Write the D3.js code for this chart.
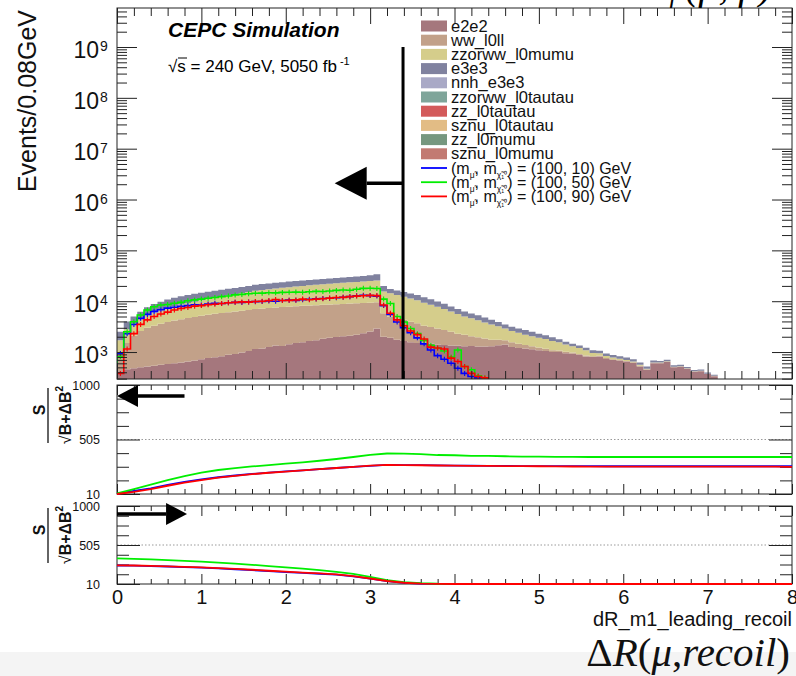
<!DOCTYPE html>
<html><head><meta charset="utf-8">
<script src="https://cdn.jsdelivr.net/npm/d3@7"></script>
<style>
body{margin:0;background:#fff;}
svg{display:block;}
</style></head><body>
<script>
// ---------------- DATA ----------------
const binWidth = 0.08;
const nBins = 100;
const binLo = d3.range(nBins).map(i => +(i * binWidth).toFixed(2));

const bkgNames = ["e2e2","ww_l0ll","zzorww_l0mumu","e3e3","nnh_e3e3","zzorww_l0tautau","zz_l0tautau","sznu_l0tautau","zz_l0mumu","sznu_l0mumu"];
const bkgColors = ["#a5777d","#c2a189","#d5cd8b","#80829f","#a9a9c6","#7fa59a","#d35a5a","#e2bc85","#76977f","#c27a72"];

const e2e2 = [420,460,480,500,520,540,560,580,600,620, 650,680,720,760,790,830,880,920,980,1050,
  1150,1180,1260,1350,1320,1420,1500,1560,1650,1700, 1820,1900,1980,2050,2100,2200,2350,2550,2900,2000,
  1900,1750,1650,1560,1500,1520,1450,1400,1380,1350, 1330,1300,1320,1280,1290,1300,1360,1400,1250,1200,
  1180,1130,1080,1050,1000,1000,950,930,880,820, 800,820,730,700,680,650,610,520,450,600,
  600,640,500,515,470,410,420,370,335,270, 250,230,200,210,180,170,150,160,140,130];
const ww_l0ll = [480,1040,1620,2100,2480,2760,3040,3320,3550,3780, 4000,4220,4430,4640,4860,5020,5170,5380,5520,5650,
  5850,5970,6090,6150,6330,6380,6450,6540,6600,6650, 6680,6700,6770,6800,6900,6900,6900,6800,6600,3800,
  3100,2850,2650,2390,2200,1780,1650,1500,1320,1150, 970,900,730,670,560,450,390,300,300,250,
  200,170,150,110,90,70,60,50,40,40, 30,30,30,25,20,20,20,15,10,15,
  12,10,8,7,6,5,4,4,3,2, 2,2,1,1,1,1,1,1,1,1];
const zzorww_l0mumu = [800,1300,1600,2000,2350,2700,3100,3500,3850,4200, 4550,4900,5250,5600,5950,6350,6850,7300,7900,8500,
  9000,9450,9850,10300,10650,11100,11450,11900,12250,12650, 13000,13400,13750,14150,14500,14900,15250,15650,16000,9700,
  9300,8700,8000,7350,6700,6000,5400,4900,4300,3800, 3300,2800,2550,2250,1950,1750,1450,1200,1050,950,
  820,750,670,640,560,480,390,320,280,220, 130,100,80,60,40,30,20,25,10,10,
  8,10,4,4,4,3,3,2,2,1, 1,1,1,1,1,1,1,1,1,1];
const e3e3 = [800,1200,1300,1600,2250,2800,3100,3400,3700,3900, 4100,4200,4300,4400,4500,4600,4600,4600,4600,4600,
  5000,5100,5200,5200,5300,5400,5500,5500,5600,5700, 5800,5900,6000,6100,6300,6500,6800,7300,8300,4300,
  3000,2900,2900,2800,2800,2700,2400,2100,1900,1600, 1400,1300,1100,1100,1000,800,700,600,550,500,
  500,450,400,350,300,230,200,150,150,140, 120,110,100,90,85,80,70,60,50,55,
  50,45,40,35,30,25,25,20,18,15, 14,12,10,10,8,8,6,6,5,5];
// minor backgrounds: not visible at this scale
const nnh_e3e3 = [], zzorww_l0tautau = [], zz_l0tautau = [], sznu_l0tautau = [], zz_l0mumu = [], sznu_l0mumu = [];
const bkgValues = [e2e2, ww_l0ll, zzorww_l0mumu, e3e3, nnh_e3e3, zzorww_l0tautau, zz_l0tautau, sznu_l0tautau, zz_l0mumu, sznu_l0mumu];

const sigColors = ["#0000ff","#00ee00","#ff0000"];
const sigMassSmuon = [100,100,100];
const sigMassChi = [10,50,90];
const sig10 = [940,2300,3500,4600,5500,6300,6800,7300,7600,7900, 8200,8500,8400,8800,9100,9000,9300,9500,9400,9700,
  9800,9900,10100,10000,10300,10500,10400,10700,10900,11100, 11300,11400,11700,12000,12300,12800,13100,12900,12600,8200,
  5500,3900,3000,2400,1900,1450,1100,850,720,600, 480,380,330,310];
const sig50 = [810,2500,3950,5340,6700,7800,8400,8600,9100,9500, 10200,10600,11000,11400,11800,12300,12700,13300,13600,14000,
  14300,14400,14700,14600,14900,15000,15100,15000,15300,15600, 15500,15900,16300,16600,16400,17200,17900,18000,17800,11000,
  9000,5000,3900,2900,2300,1700,1350,1200,1050,800, 1100,520,450,340,310];
const sig90 = [380,1150,2300,3500,4300,5000,5600,6100,6700,7200, 7500,8000,8200,8500,8700,9000,9300,9500,9700,9600,
  9900,10000,10300,10800,10300,10400,10600,11000,10700,11000, 11200,11500,11800,11900,12300,12600,12800,13000,12900,8400,
  5800,4300,3300,2600,2200,1800,1250,1200,1150,760, 650,520,380,330,310];
const sigValues = [sig10, sig50, sig90];

// significance scans, sampled every 0.2
const scanX = d3.range(41).map(i => +(i * 0.2).toFixed(1));
const left10 = [12,38,62,92,120,142,162,178,192,204, 215,225,236,246,256,266,274,273,272,270,
  268,267,266,265,264,264,264,264,264,262, 262,262,262,262,262,262,262,262,262,262, 262];
const left50 = [15,55,95,135,172,205,228,245,260,273, 285,297,312,328,346,365,378,376,373,364,
  362,356,356,353,349,349,348,348,346,346, 346,346,346,346,346,346,346,346,346,346, 346];
const left90 = [10,30,55,85,113,137,158,175,190,203, 214,225,236,246,257,267,275,273,271,269,
  267,266,265,264,263,262,261,260,259,258, 258,258,258,258,258,258,258,258,258,258, 256];
const right10 = [245,243,238,232,225,218,208,197,186,173, 161,150,140,128,107,78,46,25,15,11,
  10,10,10,10,10,10,10,10,10,10, 10,10,10,10,10,10,10,10,10,10, 10];
const right50 = [336,330,322,313,303,293,281,268,254,238, 222,205,186,165,138,100,60,35,20,13,
  11,10,10,10,10,10,10,10,10,10, 10,10,10,10,10,10,10,10,10,10, 10];
const right90 = [247,245,240,234,228,222,212,202,191,178, 166,155,144,133,110,80,48,26,15,11,
  10,10,10,10,10,10,10,10,10,10, 10,10,10,10,10,10,10,10,10,10, 10];
const leftScans = [left10, left50, left90];
const rightScans = [right10, right50, right90];

const cutValue = 3.39;
const mainArrow = {from: 3.39, to: 2.58, v: 2.1e6};
const leftArrow = {from: 0.8, to: 0.0, v: 900};
const rightArrow = {from: 0.0, to: 0.83, v: 900};

const yMajor = [1e3,1e4,1e5,1e6,1e7,1e8,1e9];
const xMajor = [0,1,2,3,4,5,6,7,8];
const ratioMajor = [10,505,1000];

// ---------------- LAYOUT ----------------
const FONT = "'Liberation Sans', Arial, Helvetica, sans-serif";
const W = 796, H = 676, L = 117, R = 792;
const main = {top: 8, bottom: 379}, p1 = {top: 385, bottom: 494}, p2 = {top: 506, bottom: 584};

const svg = d3.select("body").append("svg").attr("width", W).attr("height", H).attr("font-family", FONT);
svg.append("rect").attr("x",0).attr("y",0).attr("width",W).attr("height",H).attr("fill","#fff");
svg.append("rect").attr("x",0).attr("y",652).attr("width",W).attr("height",24).attr("fill","#f4f4f4");

const x = d3.scaleLinear().domain([0,8]).range([L,R]);
const y = d3.scaleLog().domain([295,5.85e9]).range([main.bottom, main.top]).clamp(true);
const y1 = d3.scaleLinear().domain([10,1000]).range([p1.bottom, p1.top]);
const y2 = d3.scaleLinear().domain([10,1000]).range([p2.bottom, p2.top]);

const defs = svg.append("defs");
defs.append("clipPath").attr("id","cm").append("rect").attr("x",L).attr("y",main.top).attr("width",R-L).attr("height",main.bottom-main.top);
defs.append("clipPath").attr("id","c1").append("rect").attr("x",L-1).attr("y",p1.top-1).attr("width",R-L+2).attr("height",p1.bottom-p1.top+2);
defs.append("clipPath").attr("id","c2").append("rect").attr("x",L-1).attr("y",p2.top-1).attr("width",R-L+2).attr("height",p2.bottom-p2.top+2);

// ---------------- MAIN PANEL ----------------
const rows = binLo.map((lo,i) => { const r = {lo}; bkgNames.forEach((n,k) => r[n] = bkgValues[k][i] || 0); return r; });
rows.push(Object.assign({}, rows[rows.length-1], {lo: 8}));
const stacked = d3.stack().keys(bkgNames)(rows);
const area = d3.area()
  .x(d => x(d.data.lo))
  .y0(d => y(Math.max(d[0],1e-9)))
  .y1(d => y(Math.max(d[1],1e-9)))
  .curve(d3.curveStepAfter);
const gm = svg.append("g").attr("clip-path","url(#cm)");
gm.selectAll("path.bkg").data(stacked).join("path").attr("class","bkg")
  .attr("fill",(d,i) => bkgColors[i]).attr("d", area);

const sLine = d3.line().x(d => x(d.lo)).y(d => y(Math.max(d.v,1e-9))).curve(d3.curveStepAfter);
sigValues.forEach((s,k) => {
  const end = binLo[s.length-1] + binWidth;
  const pts = [{lo:0,v:0}].concat(s.map((v,i) => ({lo: binLo[i], v})), [{lo:end, v:s[s.length-1]}, {lo:end, v:0}]);
  gm.append("path").attr("d", sLine(pts)).attr("fill","none").attr("stroke", sigColors[k]).attr("stroke-width",1.6);
  gm.selectAll(null).data(s).join("line")
    .attr("x1",(v,i) => x(binLo[i]+binWidth/2)).attr("x2",(v,i) => x(binLo[i]+binWidth/2))
    .attr("y1",v => y(v)-2.5).attr("y2",v => y(v)+2.5)
    .attr("stroke", sigColors[k]).attr("stroke-width",1.1);
});

function styleAxis(g){ g.select(".domain").remove(); g.attr("font-family", FONT); g.selectAll(".tick line").attr("stroke","#222"); }
const yMinor = [];
for (let d = 2; d <= 9; d++) for (let k = 2; k <= 9; k++) { const v = k*Math.pow(10,d); if (v > 295 && v < 5.85e9) yMinor.push(v); }
const xMinor = d3.range(41).map(i => +(i*0.2).toFixed(1)).filter(v => !xMajor.includes(v));

svg.append("g").attr("transform",`translate(${L},0)`).call(d3.axisLeft(y).tickValues(yMajor).tickSize(-20).tickFormat("")).call(styleAxis);
svg.append("g").attr("transform",`translate(${L},0)`).call(d3.axisLeft(y).tickValues(yMinor).tickSize(-10).tickFormat("")).call(styleAxis);
svg.append("g").attr("transform",`translate(${R},0)`).call(d3.axisRight(y).tickValues(yMajor).tickSize(-20).tickFormat("")).call(styleAxis);
svg.append("g").attr("transform",`translate(${R},0)`).call(d3.axisRight(y).tickValues(yMinor).tickSize(-10).tickFormat("")).call(styleAxis);

function xTicks(top, bottom, majLen, minLen){
  svg.append("g").attr("transform",`translate(0,${top})`).call(d3.axisTop(x).tickValues(xMajor).tickSize(-majLen).tickFormat("")).call(styleAxis);
  svg.append("g").attr("transform",`translate(0,${top})`).call(d3.axisTop(x).tickValues(xMinor).tickSize(-minLen).tickFormat("")).call(styleAxis);
  svg.append("g").attr("transform",`translate(0,${bottom})`).call(d3.axisBottom(x).tickValues(xMajor).tickSize(-majLen).tickFormat("")).call(styleAxis);
  svg.append("g").attr("transform",`translate(0,${bottom})`).call(d3.axisBottom(x).tickValues(xMinor).tickSize(-minLen).tickFormat("")).call(styleAxis);
}
xTicks(main.top, main.bottom, 16, 8);

svg.append("rect").attr("x",L).attr("y",main.top).attr("width",R-L).attr("height",main.bottom-main.top)
  .attr("fill","none").attr("stroke","#222").attr("stroke-width",1);

// y labels 10^n
yMajor.forEach(v => {
  const yy = y(v);
  svg.append("text").attr("x",99).attr("y",yy+11).attr("text-anchor","end").attr("font-size",23).attr("fill","#111").text("10");
  svg.append("text").attr("x",100).attr("y",yy+4).attr("font-size",14).attr("fill","#111").text(Math.round(Math.log10(v)));
});
svg.append("text").attr("transform","translate(36,10) rotate(-90)").attr("text-anchor","end")
  .attr("font-size",25).attr("fill","#111").text("Events/0.08GeV");

// cut + arrow
function arrow(g, x0, x1, yy, headLen, halfW, w){
  const dir = Math.sign(x1 - x0);
  const base = x1 - dir*headLen;
  g.append("line").attr("x1",x0).attr("x2",base).attr("y1",yy).attr("y2",yy).attr("stroke","#000").attr("stroke-width",w);
  g.append("path").attr("d",`M${x1},${yy}L${base},${yy-halfW}L${base},${yy+halfW}Z`).attr("fill","#000");
}
svg.append("line").attr("x1",x(cutValue)).attr("x2",x(cutValue)).attr("y1",y(1e9)).attr("y2",main.bottom)
  .attr("stroke","#000").attr("stroke-width",3);
arrow(svg, x(mainArrow.from), x(mainArrow.to), y(mainArrow.v), 32, 16.5, 3.5);

// header texts
svg.append("text").attr("x",168).attr("y",37).attr("font-size",21).attr("font-weight","bold").attr("font-style","italic").text("CEPC Simulation");
const lum = svg.append("text").attr("x",168).attr("y",72).attr("font-size",17);
lum.append("tspan").text("√s = 240 GeV, 5050 fb");
lum.append("tspan").attr("font-size",11).attr("dy",-7).attr("dx",3).text("-1");
svg.append("line").attr("x1",178).attr("x2",187).attr("y1",58).attr("y2",58).attr("stroke","#000").attr("stroke-width",1);

// partially visible label at top (cut by the image edge)
const topT = svg.append("text").attr("x",772).attr("y",-1).attr("text-anchor","end").attr("font-size",40).attr("font-family","'Liberation Serif', 'Times New Roman', serif");
topT.append("tspan").text("Δ");
topT.append("tspan").attr("font-style","italic").text("φ(μ, μ)");

// legend
const legY0 = 26, legDY = 14.2;
bkgNames.forEach((n,i) => {
  const cy = legY0 + i*legDY;
  svg.append("rect").attr("x",421).attr("y",cy-5.5).attr("width",26).attr("height",11).attr("fill",bkgColors[i]);
  svg.append("text").attr("x",451).attr("y",cy+5.5).attr("font-size",16.5).attr("fill","#111").text(n);
});
sigColors.forEach((c,k) => {
  const cy = legY0 + (bkgNames.length + k)*legDY;
  svg.append("line").attr("x1",421).attr("x2",447).attr("y1",cy).attr("y2",cy).attr("stroke",c).attr("stroke-width",1.8);
  const t = svg.append("text").attr("x",451).attr("y",cy+5.5).attr("font-size",16).attr("fill","#111");
  t.append("tspan").text("(m");
  t.append("tspan").attr("font-size",8.5).attr("dy",4).text("μ̃");
  t.append("tspan").attr("dy",-4).text(", m");
  t.append("tspan").attr("font-size",8.5).attr("dy",4).text("χ̃₁⁰");
  t.append("tspan").attr("dy",-4).text(`) = (${sigMassSmuon[k]}, ${sigMassChi[k]}) GeV`);
});

// ---------------- RATIO PANELS ----------------
const ratioMinor = [1,2,3,5,6,7].map(k => 10 + k*123.75);
function ratioPanel(p, ys, clip, scans, arr, cyTitle, showX){
  svg.append("line").attr("x1",L).attr("x2",R).attr("y1",ys(505)).attr("y2",ys(505))
    .attr("stroke","#999").attr("stroke-width",1).attr("stroke-dasharray","1.5,2");
  const gl = svg.append("g").attr("transform",`translate(${L},0)`)
    .call(d3.axisLeft(ys).tickValues(ratioMajor).tickSize(-23).tickPadding(17).tickFormat(d3.format("d"))).call(styleAxis);
  gl.selectAll("text").attr("font-size",12.5).attr("fill","#111");
  svg.append("g").attr("transform",`translate(${L},0)`).call(d3.axisLeft(ys).tickValues(ratioMinor).tickSize(-12).tickFormat("")).call(styleAxis);
  svg.append("g").attr("transform",`translate(${R},0)`).call(d3.axisRight(ys).tickValues(ratioMajor).tickSize(-23).tickFormat("")).call(styleAxis);
  svg.append("g").attr("transform",`translate(${R},0)`).call(d3.axisRight(ys).tickValues(ratioMinor).tickSize(-12).tickFormat("")).call(styleAxis);
  xTicks(p.top, p.bottom, 10, 5);
  svg.append("rect").attr("x",L).attr("y",p.top).attr("width",R-L).attr("height",p.bottom-p.top)
    .attr("fill","none").attr("stroke","#222").attr("stroke-width",1);
  const g = svg.append("g").attr("clip-path",`url(#${clip})`);
  const ln = d3.line().x((d,i) => x(scanX[i])).y(d => ys(d));
  scans.forEach((s,k) => g.append("path").attr("d", ln(s)).attr("fill","none").attr("stroke", sigColors[k]).attr("stroke-width",1.8));
  arrow(svg, x(arr.from), x(arr.to), ys(arr.v), 21, 11, 3.5);
  const gt = svg.append("g").attr("transform",`translate(46,${cyTitle}) rotate(-90)`).attr("font-weight","bold").attr("fill","#111");
  gt.append("text").attr("x",5).attr("y",-1).attr("text-anchor","middle").attr("font-size",16).text("S");
  gt.append("line").attr("x1",-28).attr("x2",27).attr("y1",2).attr("y2",2).attr("stroke","#111").attr("stroke-width",1.3);
  const den = gt.append("text").attr("x",0).attr("y",25).attr("text-anchor","middle").attr("font-size",16);
  den.append("tspan").attr("font-weight","normal").text("√");
  den.append("tspan").text("B+ΔB");
  den.append("tspan").attr("font-size",10).attr("dy",-8).text("2");
  if (showX) {
    const gx = svg.append("g").attr("transform",`translate(0,${p.bottom})`)
      .call(d3.axisBottom(x).tickValues(xMajor).tickSize(0).tickPadding(6).tickFormat(d3.format("d"))).call(styleAxis);
    gx.selectAll("text").attr("font-size",20).attr("fill","#111");
  }
}
ratioPanel(p1, y1, "c1", leftScans, leftArrow, 415, false);
ratioPanel(p2, y2, "c2", rightScans, rightArrow, 535, true);

svg.append("text").attr("x",792).attr("y",626).attr("text-anchor","end").attr("font-size",20).attr("fill","#111").text("dR_m1_leading_recoil");

const bt = svg.append("text").attr("x",790).attr("y",666).attr("text-anchor","end").attr("font-size",41)
  .attr("font-family","'Liberation Serif', 'Times New Roman', serif").attr("fill","#111");
bt.append("tspan").text("Δ");
bt.append("tspan").attr("font-style","italic").text("R");
bt.append("tspan").text("(");
bt.append("tspan").attr("font-style","italic").text("μ");
bt.append("tspan").text(",");
bt.append("tspan").attr("font-style","italic").text("recoil");
bt.append("tspan").text(")");
</script>
</body></html>
